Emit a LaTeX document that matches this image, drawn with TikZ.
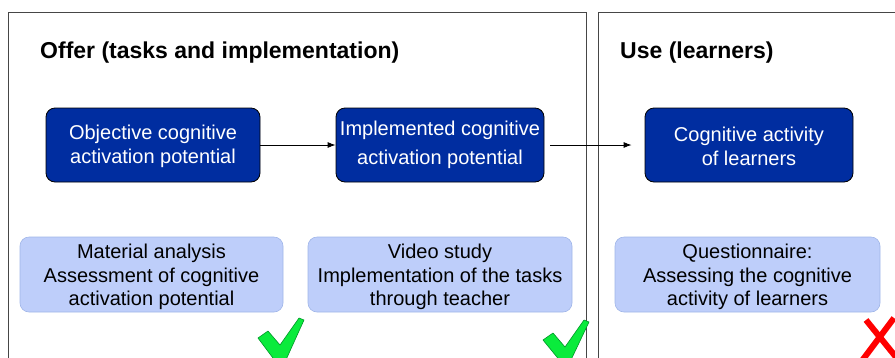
\documentclass[tikz,border=0pt]{standalone}
\usepackage{fontspec}
\setmainfont{Liberation Sans}
\usetikzlibrary{arrows.meta}
\definecolor{darkbox}{RGB}{0,45,160}
\definecolor{lightbox}{RGB}{190,206,250}
\definecolor{lightedge}{RGB}{160,182,232}
\definecolor{framegray}{RGB}{70,70,70}
\definecolor{checkgreen}{RGB}{10,235,60}
\definecolor{checkdark}{RGB}{0,150,40}
\begin{document}
\begin{tikzpicture}[x=1pt,y=-1pt,
  frame/.style={draw=framegray,line width=0.9pt},
  heading/.style={anchor=west,font=\fontsize{23}{26}\selectfont\bfseries,inner sep=0pt},
  darknode/.style={draw=black,line width=0.8pt,fill=darkbox,rounded corners=9pt,
    text=white,align=center,minimum height=74pt,inner sep=0pt,
    font=\fontsize{20}{24}\selectfont},
  lightnode/.style={draw=lightedge,line width=0.6pt,fill=lightbox,rounded corners=9pt,
    text=black,align=center,minimum height=75pt,inner sep=0pt,
    font=\fontsize{20}{23.5}\selectfont},
  flow/.style={-{Latex[length=8pt,width=6pt]},line width=0.8pt},
  check/.style={fill=checkgreen,draw=checkdark,line width=0.6pt,line join=round},
  cross/.style={draw=red,line width=6pt}]
\useasboundingbox (0,0) rectangle (895,357);
\begin{scope}
\clip (0,0) rectangle (895,357);
% section frames
\draw[frame] (8.5,400) -- (8.5,12.5) -- (586.5,12.5) -- (586.5,400);
\draw[frame] (598.5,400) -- (598.5,12.5) -- (900,12.5);
\node[heading] (offer) at (40,53) {Offer (tasks and implementation)};
\node[heading] (use) at (620,53) {Use (learners)};
% constructs
\node[darknode,minimum width=214pt] (obj) at (153,145) {\rule{0pt}{17pt}Objective cognitive\\activation potential};
\node[darknode,minimum width=208pt] (impl) at (440,145) {Implemented cognitive\\[5pt]activation potential};
\node[darknode,minimum width=208pt] (act) at (749,145) {\rule{0pt}{17pt}Cognitive activity\\of learners};
\coordinate (implout) at (550,145);
\draw[flow] (obj.east) -- (impl.west);
\draw[flow] (implout) -- ([xshift=-13pt]act.west);
% methods
\node[lightnode,minimum width=263pt] (mat) at (151.5,274.5) {\rule{0pt}{20pt}Material analysis\\Assessment of cognitive\\activation potential};
\node[lightnode,minimum width=264pt] (vid) at (440,274.5) {\rule{0pt}{20pt}Video study\\Implementation of the tasks\\through teacher};
\node[lightnode,minimum width=265pt] (que) at (747.5,274.5) {\rule{0pt}{20pt}Questionnaire:\\Assessing the cognitive\\activity of learners};
% ratings
\fill[check] (258,338) -- (268,331) -- (280,345) -- (299,318) -- (304,320) -- (285,362) -- (276,362) -- cycle;
\fill[check] (543,340) -- (553,333) -- (565,347) -- (584,320) -- (589,322) -- (570,362) -- (561,362) -- cycle;
\draw[cross] (866,320) -- (900,362);
\draw[cross] (894,318) -- (861,362);
\end{scope}
\end{tikzpicture}
\end{document}
